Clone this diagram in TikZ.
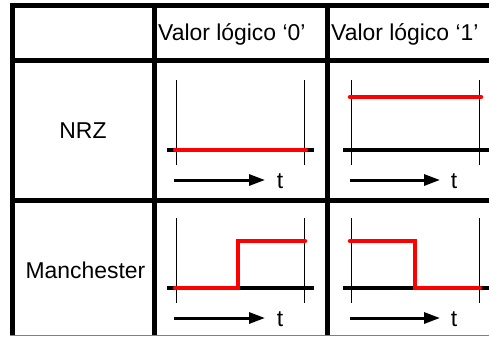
\documentclass[tikz,border=0pt]{standalone}
\usepackage{fontspec}
\setmainfont{Liberation Sans}
\usetikzlibrary{arrows.meta}

\begin{document}
\begin{tikzpicture}[x=1bp, y=-1bp,
        grid/.style={line width=5bp},
        limit/.style={line width=0.8bp},
        axis/.style={line width=3.5bp},
        level/.style={red, line width=4.5bp, line cap=round},
        timearrow/.style={-{Triangle[length=16bp, width=11bp]}, line width=3bp},
        celltext/.style={font=\fontsize{23}{27}\selectfont, inner sep=0pt}]
        \useasboundingbox (0,0) rectangle (489,337);

        % table frame
        \draw[gray, line width=0.8bp] (10,335.6) -- (489,335.6);
        \draw[grid] (10,5) -- (489,5);
        \draw[grid] (10,60.5) -- (489,60.5);
        \draw[grid] (10,200.5) -- (489,200.5);
        \draw[grid] (12.5,2.5) -- (12.5,335);
        \draw[grid] (154,2.5) -- (154,335);
        \draw[grid] (327.5,2.5) -- (327.5,335);

        % headers
        \node at (158,40) [celltext, anchor=base west] (head0) {Valor lógico ‘0’};
        \node at (331,40) [celltext, anchor=base west] (head1) {Valor lógico ‘1’};
        \node at (83,138) [celltext, anchor=base] (nrz) {NRZ};
        \node at (85.5,278) [celltext, anchor=base] (manch) {Manchester};

        % bit limits
        \coordinate (nrz0_l1) at (176,80);   \coordinate (nrz0_l2) at (176,165);
        \coordinate (nrz0_r1) at (304,80);   \coordinate (nrz0_r2) at (304,165);
        \coordinate (nrz1_l1) at (351,80);   \coordinate (nrz1_l2) at (351,165);
        \coordinate (nrz1_r1) at (479,80);   \coordinate (nrz1_r2) at (479,165);
        \coordinate (man0_l1) at (176,218);  \coordinate (man0_l2) at (176,303);
        \coordinate (man0_r1) at (304,218);  \coordinate (man0_r2) at (304,303);
        \coordinate (man1_l1) at (351,218);  \coordinate (man1_l2) at (351,303);
        \coordinate (man1_r1) at (479,218);  \coordinate (man1_r2) at (479,303);
        \draw[limit] (nrz0_l1) -- (nrz0_l2) (nrz0_r1) -- (nrz0_r2)
                     (nrz1_l1) -- (nrz1_l2) (nrz1_r1) -- (nrz1_r2)
                     (man0_l1) -- (man0_l2) (man0_r1) -- (man0_r2)
                     (man1_l1) -- (man1_l2) (man1_r1) -- (man1_r2);

        % zero lines
        \coordinate (nrz0_z1) at (167,150);  \coordinate (nrz0_z2) at (314,150);
        \coordinate (nrz1_z1) at (343,150);  \coordinate (nrz1_z2) at (489,150);
        \coordinate (man0_z1) at (167,288);  \coordinate (man0_z2) at (314,288);
        \coordinate (man1_z1) at (343,288);  \coordinate (man1_z2) at (489,288);
        \draw[axis] (nrz0_z1) -- (nrz0_z2) (nrz1_z1) -- (nrz1_z2)
                    (man0_z1) -- (man0_z2) (man1_z1) -- (man1_z2);

        % signal levels
        \coordinate (nrz0_s1) at (175,150);  \coordinate (nrz0_s2) at (306,150);
        \coordinate (nrz1_s1) at (350,97);   \coordinate (nrz1_s2) at (481,97);
        \coordinate (man0_s1) at (175,288);  \coordinate (man0_s2) at (238,288);
        \coordinate (man0_s3) at (238,241);  \coordinate (man0_s4) at (305,241);
        \coordinate (man1_s1) at (350,241);  \coordinate (man1_s2) at (415,241);
        \coordinate (man1_s3) at (415,288);  \coordinate (man1_s4) at (480,288);
        \draw[level] (nrz0_s1) -- (nrz0_s2);
        \draw[level] (nrz1_s1) -- (nrz1_s2);
        \draw[level] (man0_s1) -- (man0_s2) -- (man0_s3) -- (man0_s4);
        \draw[level] (man1_s1) -- (man1_s2) -- (man1_s3) -- (man1_s4);

        % time axes
        \coordinate (nrz0_t1) at (174,180);  \coordinate (nrz0_t2) at (265,180);
        \coordinate (nrz1_t1) at (350,180);  \coordinate (nrz1_t2) at (440,180);
        \coordinate (man0_t1) at (174,318);  \coordinate (man0_t2) at (265,318);
        \coordinate (man1_t1) at (350,318);  \coordinate (man1_t2) at (440,318);
        \draw[timearrow] (nrz0_t1) -- (nrz0_t2);
        \draw[timearrow] (nrz1_t1) -- (nrz1_t2);
        \draw[timearrow] (man0_t1) -- (man0_t2);
        \draw[timearrow] (man1_t1) -- (man1_t2);
        \node at (280,188) [celltext, anchor=base] (nrz0_t) {t};
        \node at (454,188) [celltext, anchor=base] (nrz1_t) {t};
        \node at (280,326) [celltext, anchor=base] (man0_t) {t};
        \node at (454,326) [celltext, anchor=base] (man1_t) {t};
\end{tikzpicture}
\end{document}
